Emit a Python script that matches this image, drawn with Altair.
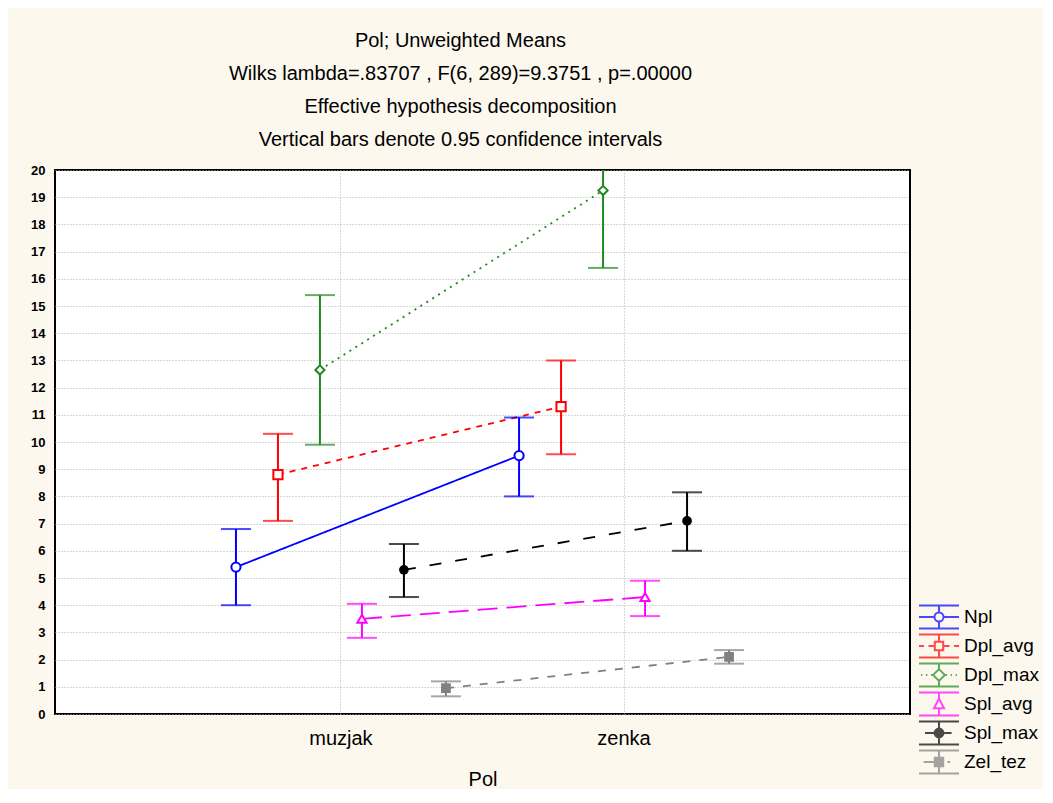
import altair as alt
import pandas as pd

series = ["Npl", "Dpl_avg", "Dpl_max", "Spl_avg", "Spl_max", "Zel_tez"]
categories = ["muzjak", "zenka"]
means_muzjak = [5.4, 8.8, 12.65, 3.5, 5.3, 0.95]
lower_muzjak = [4.0, 7.1, 9.9, 2.8, 4.3, 0.65]
upper_muzjak = [6.8, 10.3, 15.4, 4.05, 6.25, 1.2]
means_zenka = [9.5, 11.3, 19.25, 4.3, 7.1, 2.1]
lower_zenka = [8.0, 9.55, 16.4, 3.6, 6.0, 1.85]
upper_zenka = [10.9, 13.0, 22.0, 4.9, 8.15, 2.35]

colors = ["#0000ff", "#ff0000", "#1f8a1f", "#ff00ff", "#000000", "#808080"]
marker_shapes = ["circle", "square", "diamond", "triangle-up", "circle", "square"]
marker_filled = [False, False, False, False, True, True]
dashes = [[1, 0], [6, 6], [2, 5], [20, 9], [12, 14], [8, 9]]

# ---- legend glyphs (error bar + series line + marker), drawn in pixel units ----
R = 12.0  # symbol radius in px (symbolSize = (2R)^2)
def u(v):
    return f"{v / R:.3f}"
def seg(x1, y1, x2, y2):
    return f"M{u(x1)},{u(y1)}L{u(x2)},{u(y2)}"
def hsegs(pairs):
    return "".join(seg(a, 0, b, 0) for a, b in pairs)
def caps():
    return seg(-20, -11.5, 20, -11.5) + seg(-20, 11.5, 20, 11.5)
def vbar(gap):
    return seg(0, -11.5, 0, -gap) + seg(0, gap, 0, 11.5)
def ocircle(r):
    return f"M{u(-r)},0A{u(r)},{u(r)} 0 1,0 {u(r)},0A{u(r)},{u(r)} 0 1,0 {u(-r)},0Z"
def osquare(h):
    return f"M{u(-h)},{u(-h)}L{u(h)},{u(-h)}L{u(h)},{u(h)}L{u(-h)},{u(h)}Z"
def odiamond(h):
    return f"M0,{u(-h)}L{u(h)},0L0,{u(h)}L{u(-h)},0Z"
def otriangle(top, base, hw):
    return f"M0,{u(-top)}L{u(hw)},{u(base)}L{u(-hw)},{u(base)}Z"
def fcircle(r):
    out = ocircle(r)
    y = -r + 0.8
    while y < r - 0.5:
        w = max(r * r - y * y, 0) ** 0.5
        out += seg(-w, y, w, y)
        y += 1.2
    return out
def fsquare(h):
    out = osquare(h)
    y = -h + 1.0
    while y < h:
        out += seg(-h, y, h, y)
        y += 1.2
    return out

legend_paths = [
    caps() + vbar(4.5) + hsegs([(-20, -4.5), (4.5, 20)]) + ocircle(4.5),
    caps() + vbar(4.2) + hsegs([(-20, -15), (-10.5, -4.2), (4.2, 10.5), (15, 20)]) + osquare(4.2),
    caps() + vbar(5.9) + hsegs([(-18, -16.6), (-13, -11.6), (-8, -6.6),
                                (6.6, 8), (11.6, 13), (16.6, 18)]) + odiamond(5.9),
    caps() + vbar(5.3) + otriangle(5.3, 4.2, 5.0),
    caps() + seg(0, -11.5, 0, 11.5) + hsegs([(-14, -4.2), (4.2, 12.6)]) + fcircle(4.4),
    caps() + vbar(4.2) + hsegs([(-15.4, -4.2), (8.4, 11.2)]) + fsquare(4.2),
]

rows = []
for i, s in enumerate(series):
    rows.append({"Pol": categories[0], "series": s, "mean": means_muzjak[i],
                 "lo": lower_muzjak[i], "hi": upper_muzjak[i]})
    rows.append({"Pol": categories[1], "series": s, "mean": means_zenka[i],
                 "lo": lower_zenka[i], "hi": upper_zenka[i]})
df = pd.DataFrame(rows)

FONT = "Liberation Sans"

x_enc = alt.X("Pol:N", sort=categories, title="Pol",
              scale=alt.Scale(domain=categories, paddingInner=0.11, paddingOuter=0.565),
              axis=alt.Axis(labelAngle=0, labelFontSize=20, labelFont=FONT, labelColor="black",
                            titleFontSize=20, titleFont=FONT, titleFontWeight="normal",
                            titleColor="black", labelPadding=14, titlePadding=21,
                            ticks=False, domain=False, grid=True, bandPosition=0.5,
                            gridColor="#b0b0b0", gridDash=[1, 2], gridWidth=1))
xo_enc = alt.XOffset("series:N", sort=series,
                     scale=alt.Scale(domain=series, paddingInner=0, paddingOuter=0))
y_scale = alt.Scale(domain=[0, 20], nice=False)

# plot marks use stroke/fill scales with data-driven domains (no legend);
# the visible legend comes from the color + shape scales of the legend layer
stroke_enc = alt.Stroke("series:N", sort=series, scale=alt.Scale(range=colors), legend=None)
fill_enc = alt.Fill("series:N", sort=series, scale=alt.Scale(range=colors), legend=None)

base = alt.Chart(df).encode(x=x_enc, xOffset=xo_enc)

# legend-only layer: its glyphs are pushed far below the plot and clipped away
legend_layer = base.mark_point(filled=False, strokeWidth=2, yOffset=3000, clip=True).encode(
    y=alt.Y("mean:Q", scale=y_scale, title=None),
    color=alt.Color("series:N", sort=series, scale=alt.Scale(domain=series, range=colors),
                    legend=alt.Legend(title=None)),
    shape=alt.Shape("series:N", sort=series, scale=alt.Scale(domain=series, range=legend_paths),
                    legend=alt.Legend(title=None)),
)

lines = base.mark_line(strokeWidth=1.8, clip=True).encode(
    y=alt.Y("mean:Q", scale=y_scale, title=None),
    stroke=stroke_enc,
    strokeDash=alt.StrokeDash("series:N", sort=series, scale=alt.Scale(range=dashes),
                              legend=None),
    detail="series:N",
)

bars = base.mark_rule(strokeWidth=2, clip=True).encode(
    y=alt.Y("lo:Q", scale=y_scale, title=None),
    y2="hi:Q",
    stroke=stroke_enc,
)

caps_lo = base.mark_tick(orient="horizontal", thickness=2, size=30, clip=True).encode(
    y=alt.Y("lo:Q", scale=y_scale, title=None),
    fill=fill_enc,
)
caps_hi = base.mark_tick(orient="horizontal", thickness=2, size=30, clip=True).encode(
    y=alt.Y("hi:Q", scale=y_scale, title=None),
    fill=fill_enc,
)

marker_layers = []
for i, s in enumerate(series):
    if marker_filled[i]:
        mk = base.mark_point(shape=marker_shapes[i], size=95, filled=True, opacity=1,
                             clip=True).encode(fill=fill_enc)
    else:
        mk = base.mark_point(shape=marker_shapes[i], size=85, filled=False, fill="white",
                             fillOpacity=1, strokeWidth=2, opacity=1,
                             clip=True).encode(stroke=stroke_enc)
    marker_layers.append(
        mk.transform_filter(alt.datum.series == s).encode(
            y=alt.Y("mean:Q", scale=y_scale, title=None),
        )
    )

chart = alt.layer(legend_layer, lines, bars, caps_lo, caps_hi, *marker_layers).properties(
    width=855,
    height=544,
    autosize=alt.AutoSizeParams(type="none"),
    padding={"left": 47, "top": 162, "right": 133, "bottom": 75},
    background="#fcf8ee",
    title=alt.TitleParams(
        text=["Pol; Unweighted Means",
              "Wilks lambda=.83707 , F(6, 289)=9.3751 , p=.00000",
              "Effective hypothesis decomposition",
              "Vertical bars denote 0.95 confidence intervals"],
        font=FONT, fontSize=20, fontWeight="normal", color="black",
        lineHeight=33, anchor="middle", dx=-22, offset=14,
    ),
).configure_view(
    fill="white", stroke="black", strokeWidth=2,
).configure_axisY(
    tickCount=21, labelFontSize=13, labelFont=FONT, labelFontWeight="bold",
    labelColor="black", ticks=False, domain=False, labelPadding=10, grid=True,
    gridColor="#b0b0b0", gridDash=[1, 2], gridWidth=1, labelOverlap=False,
).configure_legend(
    orient="none", legendX=871, legendY=434, labelFont=FONT, labelFontSize=19,
    labelColor="black", symbolSize=(2 * R) ** 2, symbolStrokeWidth=2, rowPadding=-3,
    labelOffset=12, symbolOffset=0, padding=0,
)

chart.save("out.html", embed_options={"renderer": "svg", "actions": False})
